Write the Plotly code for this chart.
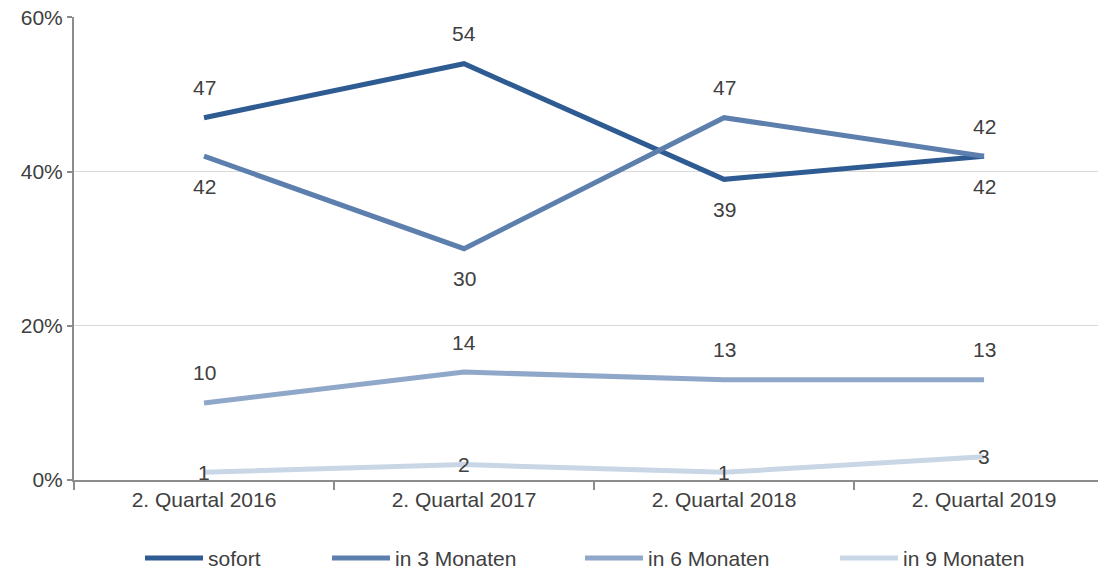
import plotly.graph_objects as go

categories = ["2. Quartal 2016", "2. Quartal 2017", "2. Quartal 2018", "2. Quartal 2019"]
series_names = ["sofort", "in 3 Monaten", "in 6 Monaten", "in 9 Monaten"]
sofort = [47, 54, 39, 42]
in_3_monaten = [42, 30, 47, 42]
in_6_monaten = [10, 14, 13, 13]
in_9_monaten = [1, 2, 1, 3]
y_ticks = [0, 20, 40, 60]
y_tick_labels = ["0%", "20%", "40%", "60%"]

values = [sofort, in_3_monaten, in_6_monaten, in_9_monaten]
colors = ["#2F5B93", "#5C7FAE", "#8FA7C8", "#C9D6E6"]
# label placement per point: +1 above, -1 below, 0 centered
label_pos = [
    [1, 1, -1, -1],
    [-1, -1, 1, 1],
    [1, 1, 1, 1],
    [0, 0, 0, 0],
]

# page body has an 8px margin, so the figure is sized/offset to compensate
OFF = 8
W, H = 1106 - OFF, 573 - OFF
ml, mr, mt, mb = 74 - OFF, 0, 17 - OFF, 93
font = "Liberation Sans, Arial, sans-serif"
text_color = "#404040"
fs = 21

fig = go.Figure()
for name, vals, col in zip(series_names, values, colors):
    fig.add_trace(go.Scatter(
        x=categories, y=vals, name=name, mode="lines",
        line=dict(color=col, width=5), showlegend=False,
        hoverinfo="skip",
    ))

annotations = []
for vals, pos in zip(values, label_pos):
    for c, v, p in zip(categories, vals, pos):
        annotations.append(dict(
            x=c, y=v, xref="x", yref="y", text=str(v), showarrow=False,
            yshift=30 * p, font=dict(size=fs, color=text_color, family=font),
            xanchor="center", yanchor="middle",
        ))

# custom legend (bottom row), positions given in window pixels
pw = W - ml - mr
ph = H - mt - mb
legend_x = [145, 332, 585, 840]
legend_y = 558
shapes = []
for name, col, lx in zip(series_names, colors, legend_x):
    fx = lx - OFF
    fy = legend_y - OFF
    x0 = (fx - ml) / pw
    x1 = (fx + 58 - ml) / pw
    yy = (H - mb - fy) / ph
    shapes.append(dict(type="line", xref="paper", yref="paper",
                       x0=x0, x1=x1, y0=yy, y1=yy,
                       line=dict(color=col, width=5)))
    annotations.append(dict(
        x=(fx + 61 - ml) / pw, y=yy, xref="paper", yref="paper",
        text=name, showarrow=False, xanchor="left", yanchor="middle",
        font=dict(size=fs, color=text_color, family=font),
    ))

fig.update_layout(
    width=W, height=H,
    margin=dict(l=ml, r=mr, t=mt, b=mb, pad=0, autoexpand=False),
    paper_bgcolor="white", plot_bgcolor="white",
    font=dict(family=font, size=fs, color=text_color),
    annotations=annotations, shapes=shapes,
    xaxis=dict(
        type="category", range=[-0.5, 3.469], automargin=False,
        showgrid=False, showline=True, linecolor="#8C8C8C", linewidth=2,
        ticks="outside", tickson="boundaries", ticklen=8, tickcolor="#8C8C8C",
        tickwidth=2, tickfont=dict(size=fs, color=text_color),
    ),
    yaxis=dict(
        range=[0, 60.06], tickvals=y_ticks, ticktext=y_tick_labels, automargin=False,
        ticklabeloverflow="allow",
        showgrid=True, gridcolor="#D9D9D9", gridwidth=1,
        showline=True, linecolor="#8C8C8C", linewidth=2,
        ticks="outside", ticklen=5, tickcolor="#8C8C8C", tickwidth=2,
        tickfont=dict(size=fs, color=text_color), zeroline=False,
    ),
)

fig.write_html("out.html")
